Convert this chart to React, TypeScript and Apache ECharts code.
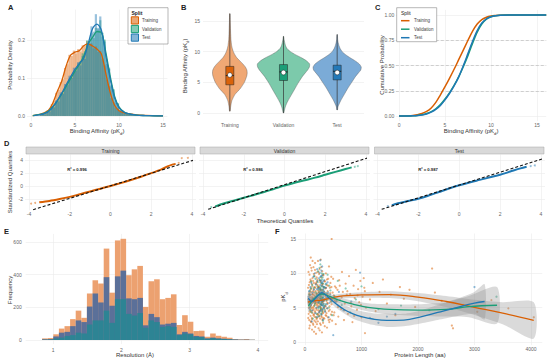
import React, { useEffect, useRef } from 'react';
import * as echarts from 'echarts';

const FONT = '"Liberation Sans", Arial, Helvetica, sans-serif';
const C_TRAIN = '#D95F02';
const C_VAL = '#1B9E77';
const C_TEST = '#1F78B4';
const splits = ['Training', 'Validation', 'Test'];

// ---------- Panel A: affinity histograms + densities ----------
const affinityBinStart = 1.0;
const affinityBinWidth = 0.25;
const histTrain = [0.004,0.008,0.009,0.015,0.017,0.031,0.040,0.061,0.069,0.089,0.097,0.126,0.136,0.161,0.158,0.172,0.165,0.176,0.170,0.186,0.184,0.197,0.186,0.191,0.178,0.183,0.169,0.171,0.151,0.133,0.096,0.078,0.047,0.037,0.022,0.019,0.011,0.011,0.007,0.008,0.004,0.005,0.003,0.004,0.002,0.002,0.001,0.001];
const histVal = [0.003,0.006,0.006,0.012,0.013,0.024,0.025,0.038,0.041,0.056,0.060,0.075,0.081,0.097,0.101,0.116,0.122,0.139,0.145,0.165,0.170,0.199,0.197,0.218,0.205,0.232,0.228,0.252,0.219,0.201,0.148,0.127,0.082,0.071,0.040,0.034,0.017,0.015,0.008,0.008,0.004,0.004,0.002,0.002,0.001,0.001,0.000,0.000];
const histTest = [0.001,0.007,0.004,0.013,0.011,0.026,0.022,0.041,0.038,0.062,0.058,0.084,0.081,0.106,0.100,0.127,0.119,0.142,0.133,0.158,0.150,0.191,0.193,0.236,0.222,0.268,0.232,0.262,0.209,0.196,0.137,0.124,0.078,0.068,0.035,0.032,0.015,0.015,0.006,0.009,0.003,0.005,0.002,0.003,0.001,0.001,0.001,0.000];
const densTrain = [[0.2,0.001],[1,0.004],[1.5,0.008],[2,0.015],[2.5,0.035],[3,0.065],[3.5,0.092],[4,0.132],[4.5,0.160],[5,0.168],[5.5,0.172],[6,0.185],[6.5,0.19],[7,0.184],[7.5,0.176],[8,0.163],[8.5,0.112],[9,0.062],[9.5,0.028],[10,0.014],[10.5,0.009],[11,0.006],[12,0.003],[13,0.0015],[14,0.0008],[15,0.0003]];
const densVal = [[0.2,0.001],[1,0.004],[1.5,0.007],[2,0.013],[2.5,0.025],[3,0.04],[3.5,0.058],[4,0.078],[4.5,0.098],[5,0.118],[5.5,0.136],[6,0.158],[6.5,0.19],[7,0.207],[7.5,0.222],[8,0.22],[8.5,0.168],[9,0.105],[9.5,0.052],[10,0.024],[10.5,0.012],[11,0.006],[12,0.002],[13,0.001],[14,0.0004],[15,0.0002]];
const densTest = [[0.3,0.001],[1,0.003],[1.5,0.006],[2,0.012],[2.5,0.024],[3,0.041],[3.5,0.06],[4,0.082],[4.5,0.103],[5,0.123],[5.5,0.138],[6,0.152],[6.5,0.19],[7,0.23],[7.5,0.242],[8,0.226],[8.5,0.16],[9,0.098],[9.5,0.048],[10,0.022],[10.5,0.011],[11,0.006],[12,0.002],[13,0.001],[14,0.0004],[15,0.0002]];

// ---------- Panel B: violins ----------
const violinTrain = [[0.3,0.003],[1,0.008],[2,0.02],[3,0.05],[4,0.105],[5,0.145],[6,0.168],[6.5,0.173],[7,0.17],[7.5,0.155],[8,0.13],[8.5,0.1],[9,0.07],[9.5,0.05],[10,0.035],[10.5,0.025],[11,0.018],[12,0.011],[13,0.008],[14,0.006],[15,0.004],[16.2,0.002]];
const violinVal = [[0.0,0.003],[0.5,0.01],[1,0.018],[1.5,0.03],[2,0.045],[3,0.08],[4,0.115],[5,0.15],[5.5,0.17],[6,0.19],[6.5,0.215],[7,0.24],[7.5,0.258],[8,0.26],[8.5,0.23],[9,0.18],[9.5,0.12],[10,0.07],[10.5,0.035],[11,0.02],[11.5,0.012],[12,0.006],[12.5,0.002]];
const violinTest = [[0.5,0.003],[1,0.008],[2,0.035],[3,0.07],[4,0.105],[5,0.145],[6,0.185],[6.5,0.21],[7,0.235],[7.5,0.24],[8,0.22],[8.5,0.18],[9,0.13],[9.5,0.085],[10,0.05],[10.5,0.03],[11,0.018],[11.5,0.01],[12,0.005],[12.8,0.002]];
const boxQ1 = [4.6, 5.3, 5.4];
const boxMedian = [6.1, 6.7, 6.8];
const boxQ3 = [7.6, 7.9, 7.8];
const pointMean = [6.2, 6.6, 6.6];
const rangeMin = [0.3, 0.0, 0.5];
const rangeMax = [16.2, 12.5, 12.8];

// ---------- Panel C: CDFs ----------
const cdfTrain = [[0,0],[1,0.003],[1.5,0.006],[2,0.012],[2.5,0.024],[3,0.045],[3.5,0.08],[4,0.135],[4.5,0.21],[5,0.29],[5.5,0.375],[6,0.465],[6.5,0.56],[7,0.655],[7.5,0.75],[8,0.84],[8.5,0.91],[9,0.955],[9.5,0.978],[10,0.99],[10.5,0.995],[11,0.998],[12,0.999],[13,1],[16,1]];
const cdfVal = [[0,0],[1,0.001],[1.5,0.003],[2,0.006],[2.5,0.012],[3,0.024],[3.5,0.043],[4,0.072],[4.5,0.113],[5,0.168],[5.5,0.232],[6,0.305],[6.5,0.39],[7,0.49],[7.5,0.6],[8,0.72],[8.5,0.83],[9,0.91],[9.5,0.958],[10,0.982],[10.5,0.992],[11,0.997],[12,0.999],[16,1]];
const cdfTest = [[0,0],[1,0.001],[1.5,0.002],[2,0.005],[2.5,0.01],[3,0.02],[3.5,0.038],[4,0.065],[4.5,0.105],[5,0.16],[5.5,0.225],[6,0.3],[6.5,0.39],[7,0.5],[7.5,0.62],[8,0.74],[8.5,0.845],[9,0.92],[9.5,0.962],[10,0.983],[10.5,0.993],[11,0.997],[12,1],[16,1]];
const cdfRefLevels = [0.25, 0.5, 0.75];

// ---------- Panel D: QQ ----------
const qqTrain = [[-3.5,-2.55],[-3.0,-2.35],[-2.5,-2.05],[-2.0,-1.7],[-1.5,-1.28],[-1.0,-0.85],[-0.5,-0.42],[0,0],[0.5,0.45],[1.0,0.93],[1.5,1.45],[2.0,2.0],[2.5,2.6],[2.8,3.05],[3.0,3.3],[3.2,3.45]];
const qqTrainTail = [[-3.9,-2.75],[-3.7,-2.65],[3.35,3.6],[3.5,4.35],[3.8,4.4]];
const qqVal = [[-3.4,-3.2],[-3.0,-2.75],[-2.5,-2.3],[-2.0,-1.85],[-1.5,-1.4],[-1.0,-0.95],[-0.5,-0.45],[0,0.05],[0.5,0.5],[1.0,0.9],[1.5,1.3],[2.0,1.75],[2.5,2.2],[3.0,2.65],[3.3,2.9]];
const qqValTail = [[-3.6,-3.3],[3.45,3.0],[3.6,3.1]];
const qqTest = [[-3.3,-3.0],[-3.0,-2.7],[-2.5,-2.35],[-2.0,-2.0],[-1.5,-1.5],[-1.0,-0.95],[-0.5,-0.4],[0,0.1],[0.5,0.55],[1.0,0.95],[1.5,1.35],[2.0,1.75],[2.5,2.25],[3.0,2.75],[3.3,3.0]];
const qqTestTail = [[-3.5,-3.15],[3.5,3.1],[3.7,3.2]];
const qqRefTrain = [[-3.8,-3.7],[4.05,4.0]];
const qqRefVal = [[-3.75,-3.65],[4.05,4.35]];
const qqRefTest = [[-3.8,-3.65],[4.05,4.2]];
const r2Labels = ['R² = 0.996', 'R² = 0.986', 'R² = 0.987'];

// ---------- Panel E: resolution histograms ----------
const resBinStart = 0.84;
const resBinWidth = 0.082;
const resTrain = [10,12,35,70,85,128,180,136,285,366,346,560,290,610,620,397,433,454,203,360,372,250,258,280,92,152,112,55,57,20,40,26,20,14,6,4,6,2];
const resTest = [4,5,22,45,50,85,120,110,205,285,230,385,210,390,425,255,250,258,90,160,140,95,100,105,35,50,40,25,22,10,15,10,8,5,3,2,2,1];
const resVal = [2,3,10,15,25,30,45,40,95,120,120,180,105,250,250,160,150,165,75,120,110,80,85,80,30,40,35,20,18,8,12,8,6,4,2,1,1,1];

// ---------- Panel F: length vs pKd ----------
const scatterTrain = [[60,6.2],[65,4.1],[70,8.3],[72,5.5],[75,3.2],[78,7.1],[80,9.8],[82,5.9],[85,2.4],[88,6.8],[90,11.2],[92,4.7],[95,7.6],[98,3.8],[100,5.2],[102,12.3],[104,8.9],[106,6.1],[108,2.9],[110,4.4],[112,7.8],[115,5.6],[118,10.4],[120,3.5],[122,6.6],[125,1.8],[128,8.1],[130,5.0],[132,9.3],[135,4.2],[138,6.9],[140,2.7],[142,7.4],[145,5.8],[148,3.9],[150,10.9],[152,6.3],[155,4.8],[158,8.6],[160,1.5],[162,5.3],[165,7.2],[168,3.1],[170,9.6],[172,6.0],[175,4.5],[178,11.5],[180,2.2],[182,7.9],[185,5.7],[188,3.6],[190,8.4],[192,6.4],[195,1.2],[198,4.9],[200,10.1],[202,7.0],[205,3.3],[208,5.4],[210,8.8],[212,2.6],[215,6.7],[218,4.0],[220,9.1],[222,5.1],[225,7.5],[228,3.0],[230,11.8],[232,6.2],[235,4.6],[238,8.0],[240,2.0],[242,5.9],[245,7.3],[248,3.7],[250,9.9],[252,6.5],[255,4.3],[258,10.6],[260,1.7],[262,5.5],[265,7.7],[268,3.4],[270,8.7],[272,6.8],[275,4.7],[278,12.0],[280,2.5],[282,5.0],[285,7.6],[288,3.8],[290,9.4],[292,6.1],[295,4.1],[298,8.2],[300,1.4],[302,5.8],[305,10.3],[308,3.2],[310,7.0],[312,6.3],[315,4.4],[318,8.5],[320,2.8],[322,5.6],[325,9.7],[328,3.5],[330,7.1],[335,6.0],[340,4.9],[345,8.9],[350,2.3],[355,5.3],[360,7.8],[365,3.9],[370,10.0],[375,6.4],[380,4.2],[385,8.3],[390,2.1],[395,5.7],[400,7.4],[405,3.6],[410,9.2],[415,6.6],[420,4.5],[425,11.0],[430,2.9],[435,5.2],[440,7.9],[445,3.3],[450,8.6],[455,6.2],[460,4.0],[465,9.5],[470,5.5],[472,15.0],[480,3.1],[490,7.2],[510,6.8],[520,4.3],[530,8.1],[545,2.6],[560,5.9],[575,7.6],[590,3.7],[605,9.0],[620,6.1],[640,4.8],[655,10.2],[670,7.3],[690,3.2],[705,5.6],[720,8.5],[740,6.9],[760,4.1],[780,9.6],[800,7.0],[820,5.2],[840,2.9],[860,8.2],[880,6.4],[900,10.5],[920,4.7],[940,7.7],[960,5.8],[980,8.9],[1000,3.6],[1020,6.6],[1040,9.3],[1060,7.4],[1062,1.3],[1080,5.0],[1150,6.2],[1200,8.6],[1250,4.5],[1320,7.3],[1380,9.1],[1450,5.6],[1520,6.9],[1600,3.9],[1680,8.0],[1750,6.3],[1850,7.6],[1950,5.1],[2250,10.7],[2300,7.2],[2420,6.0],[2600,2.4],[2620,2.0],[2800,5.4],[3050,4.4],[3300,6.1],[3600,4.9],[4050,3.6],
  [55,7.9],[58,3.5],[62,10.2],[68,5.0],[74,6.9],[77,2.0],[83,8.7],[87,4.4],[91,6.5],[96,9.1],[99,5.3],[103,3.0],[107,7.3],[111,10.8],[114,4.9],[117,6.2],[121,8.4],[124,3.3],[127,5.9],[131,7.0],[134,11.8],[137,4.6],[141,6.4],[144,8.9],[147,2.5],[151,5.1],[154,7.7],[157,9.9],[161,4.0],[164,6.8],[167,3.7],[171,8.0],[174,5.5],[177,10.5],[181,6.6],[184,4.3],[187,7.4],[191,2.9],[194,5.8],[197,8.6],[201,6.1],[204,4.7],[207,9.4],[211,7.1],[214,3.5],[217,5.6],[221,8.3],[224,6.4],[227,4.1],[231,7.9],[234,10.2],[237,5.3],[241,6.9],[244,3.9],[247,8.1],[251,5.7],[254,7.2],[257,4.5],[261,9.0],[264,6.3],[267,2.7],[271,5.1],[274,7.5],[277,8.9],[281,4.8],[284,6.6],[287,10.9],[291,5.4],[294,7.0],[297,3.6],[301,6.5],[304,8.4],[307,4.6],[311,5.9],[314,7.6],[317,9.8],[321,4.2],[324,6.0],[327,8.0],[332,5.0],[338,7.3],[343,3.4],[348,6.2],[353,8.8],[358,4.5],[363,6.7],[368,5.2],[373,7.9],[378,3.8],[383,6.0],[388,9.1],[393,4.9],[398,7.0],[403,5.6],[408,8.2],[418,3.2],[428,6.5],[438,4.7],[448,7.1],[458,5.9],[468,8.0],[478,4.4],[488,6.3],[498,9.2],[508,3.9],[525,6.0],[550,7.9],[585,5.1],[615,8.2],[650,6.5],[700,4.6],[750,7.4],[810,5.7],[870,3.8],[930,6.8],[990,5.4],[1050,7.9]];
const scatterVal = [[70,5.8],[85,7.4],[95,4.6],[110,8.8],[125,6.0],[140,3.4],[155,7.9],[170,5.3],[185,9.2],[200,6.6],[210,4.1],[220,8.1],[230,10.3],[240,5.7],[248,7.2],[255,3.8],[262,9.0],[268,6.3],[272,11.3],[276,4.9],[280,7.7],[284,5.5],[288,8.6],[292,6.9],[296,10.0],[300,4.4],[304,7.3],[308,5.9],[312,9.4],[316,6.5],[320,3.1],[326,8.0],[332,5.2],[340,7.0],[350,4.7],[365,8.4],[380,6.1],[400,9.8],[420,5.0],[450,7.5],[480,3.9],[520,6.7],[580,8.9],[650,5.4],[720,7.8],[800,4.3],[900,6.2],[1000,8.1],[1300,4.8],[1700,5.3],[2200,4.6],[3390,6.6],
  [75,6.9],[90,5.1],[105,7.8],[118,4.3],[130,8.3],[145,6.2],[160,9.6],[175,5.6],[190,7.2],[202,3.6],[215,6.9],[226,8.7],[236,4.9],[244,7.6],[252,6.0],[258,10.8],[265,5.2],[270,7.9],[275,9.5],[279,6.4],[283,4.1],[287,7.0],[291,8.1],[295,5.7],[299,9.1],[303,6.3],[307,4.8],[311,7.5],[315,8.5],[319,5.4],[323,6.8],[329,9.9],[336,6.1],[345,7.9],[360,5.5],[375,7.1],[395,6.4],[430,8.2],[470,5.9],[560,6.1]];
const scatterTest = [[65,6.6],[80,4.9],[95,8.0],[110,5.4],[120,3.0],[135,7.2],[150,9.5],[165,5.9],[180,4.2],[195,8.4],[205,6.4],[215,10.6],[225,3.7],[235,7.8],[243,5.1],[250,9.3],[258,6.8],[264,4.5],[270,11.9],[274,7.5],[278,5.6],[282,8.9],[286,6.2],[290,10.4],[294,4.0],[298,7.1],[302,9.7],[306,5.3],[310,8.2],[314,6.0],[318,3.3],[324,7.7],[330,5.0],[338,9.0],[345,6.3],[355,4.4],[370,7.9],[385,5.5],[400,8.7],[420,3.6],[445,6.9],[500,1.0],[540,5.8],[600,7.3],[680,4.6],[820,5.9],[975,10.1],[1150,3.5],[1300,2.8],[1450,3.7],[1600,4.1],[3000,8.0],
  [72,7.4],[88,5.6],[102,6.9],[115,8.6],[128,4.6],[142,6.3],[158,7.6],[172,10.0],[188,6.1],[200,5.0],[210,7.7],[220,8.9],[230,5.8],[240,6.6],[247,4.3],[254,7.9],[261,10.1],[267,5.9],[272,8.3],[276,6.7],[280,4.6],[284,9.6],[288,7.2],[292,5.4],[296,8.6],[300,6.0],[304,11.0],[308,7.0],[312,4.7],[316,8.8],[321,6.5],[327,5.6],[334,7.4],[342,8.0],[350,5.2],[362,6.9],[378,8.5],[392,4.9],[410,7.2],[435,5.7]];
const loessTrain = [[50,5.8],[150,6.0],[300,6.1],[600,6.65],[1000,6.85],[1500,6.9],[2000,6.55],[2500,5.9],[3000,5.05],[3500,4.2],[4050,3.15]];
const loessVal = [[60,5.2],[150,6.2],[300,7.0],[450,6.6],[600,6.1],[850,5.5],[1150,5.0],[1500,4.75],[2000,4.65],[2500,4.75],[2900,5.15],[3400,5.35]];
const loessTest = [[60,6.4],[120,5.9],[200,6.5],[300,7.2],[400,6.6],[560,5.5],[700,4.7],[850,4.1],[1000,3.7],[1200,3.35],[1450,3.15],[1750,3.2],[2050,3.65],[2350,4.3],[2650,4.95],[3000,5.65],[3180,5.9]];
const bandTrain = [[50,5.3,6.7],[150,5.6,6.4],[300,5.8,6.4],[600,6.3,7.0],[1000,6.45,7.25],[1500,6.4,7.4],[2000,5.95,7.15],[2500,5.1,6.7],[3000,3.95,6.15],[3500,2.6,5.8],[4050,0.5,5.8]];
const bandVal = [[60,4.3,6.1],[150,5.7,6.7],[300,6.6,7.4],[600,5.7,6.5],[850,5.0,6.0],[1150,4.4,5.6],[1500,4.0,5.5],[2000,3.8,5.5],[2500,3.7,5.8],[2900,3.6,6.7],[3400,2.7,8.0]];
const bandTest = [[60,5.4,7.4],[200,5.9,7.1],[300,6.8,7.6],[560,4.9,6.1],[850,3.4,4.8],[1200,2.5,4.2],[1450,2.2,4.1],[1750,2.3,4.1],[2050,2.7,4.6],[2350,3.2,5.4],[2650,3.7,6.2],[3000,4.1,7.3],[3180,3.3,8.4]];

// ticks
const ticksAffinity = [0, 5, 10, 15];
const ticksDensity = [0, 0.1, 0.2];
const ticksViolinY = [0, 5, 10, 15];
const ticksCdf = [0, 0.25, 0.5, 0.75, 1];
const ticksQQx = [-4, -2, 0, 2, 4];
const ticksQQy = [-2, 0, 2, 4];
const ticksRes = [1, 2, 3, 4];
const ticksFreq = [0, 200, 400, 600];
const ticksLen = [0, 1000, 2000, 3000, 4000];
const ticksPk = [0, 5, 10, 15];

const GRID_COLOR = '#EBEBEB';
const LABEL_COLOR = '#666666';
const TITLE_COLOR = '#333333';

function valAxis(gi: number, min: number, max: number, ticks: number[], opts: any = {}) {
  return {
    type: 'value', gridIndex: gi, min, max,
    axisLine: { show: false },
    axisTick: { show: false, customValues: ticks },
    axisLabel: {
      show: opts.hideLabel ? false : true,
      customValues: ticks, fontSize: 5, color: LABEL_COLOR, fontFamily: FONT, fontWeight: 'normal',
      margin: opts.margin ?? 2,
      formatter: opts.formatter ?? ((v: number) => String(v)),
    },
    splitLine: { show: true, lineStyle: { color: GRID_COLOR, width: 0.6 } },
  };
}

function histSeries(name: string, gi: number, start: number, width: number, vals: number[], color: string) {
  return {
    type: 'custom', name, xAxisIndex: gi, yAxisIndex: gi, coordinateSystem: 'cartesian2d', silent: true,
    data: vals.map((v, i) => [start + i * width, start + (i + 1) * width, v]),
    encode: { x: [0, 1], y: 2 },
    renderItem: (params: any, api: any) => {
      const p0 = api.coord([api.value(0), api.value(2)]);
      const p1 = api.coord([api.value(1), 0]);
      return { type: 'rect', shape: { x: p0[0], y: p0[1], width: p1[0] - p0[0], height: p1[1] - p0[1] }, style: { fill: color } };
    },
  };
}

function lineSeries(name: string, gi: number, data: number[][], color: string, width: number, extra: any = {}) {
  return {
    type: 'line', name, xAxisIndex: gi, yAxisIndex: gi, data, symbol: 'none', silent: true,
    lineStyle: { color, width, ...(extra.lineStyle || {}) },
    smooth: extra.smooth ?? false, z: extra.z ?? 3,
    ...(extra.markLine ? { markLine: extra.markLine } : {}),
  };
}

function bandSeries(gi: number, band: number[][]) {
  return {
    type: 'custom', xAxisIndex: gi, yAxisIndex: gi, coordinateSystem: 'cartesian2d', silent: true, z: 2,
    data: [[band[0][0], band[0][1]]],
    encode: { x: 0, y: 1 },
    renderItem: (params: any, api: any) => {
      const upper = band.map((b) => api.coord([b[0], b[2]]));
      const lower = band.slice().reverse().map((b) => api.coord([b[0], b[1]]));
      return { type: 'polygon', shape: { points: upper.concat(lower), smooth: 0.25 }, style: { fill: 'rgba(140,140,140,0.32)' } };
    },
  };
}

const violinProfiles = [violinTrain, violinVal, violinTest];
const violinFill = ['#F0A874', '#7CCAAB', '#7BABD7'];
const boxFill = ['#D9620A', '#1B9E77', '#2479B8'];

function buildOption(): any {
  const grids = [
    { left: 27, top: 9.6, width: 140.4, height: 111.3 },
    { left: 203, top: 10, width: 161, height: 107.9 },
    { left: 395.8, top: 9.95, width: 150.4, height: 111.1 },
    { left: 25, top: 154.6, width: 171, height: 55.7 },
    { left: 199, top: 154.6, width: 171, height: 55.7 },
    { left: 373.5, top: 154.6, width: 171.5, height: 55.7 },
    { left: 25.7, top: 233.9, width: 242.5, height: 110.2 },
    { left: 297.65, top: 233.5, width: 244.6, height: 111.6 },
  ];

  const xAxis: any[] = [
    valAxis(0, -0.45, 15.5, ticksAffinity, { margin: 1.5 }),
    {
      type: 'category', gridIndex: 1, data: splits,
      axisLine: { show: false }, axisTick: { show: false },
      axisLabel: { fontSize: 5, color: LABEL_COLOR, margin: 4.5, fontFamily: FONT, fontWeight: 'normal' },
      splitLine: { show: false },
    },
    valAxis(2, -0.35, 16, ticksAffinity, { margin: 1.5 }),
    valAxis(3, -4.2, 4.2, ticksQQx, { margin: 1.5 }),
    valAxis(4, -4.2, 4.2, ticksQQx, { margin: 1.5 }),
    valAxis(5, -4.2, 4.2, ticksQQx, { margin: 1.5 }),
    valAxis(6, 0.6, 4.15, ticksRes, { margin: 3.5 }),
    valAxis(7, -130, 4200, ticksLen, { margin: 1 }),
  ];
  const yAxis: any[] = [
    valAxis(0, -0.013, 0.28, ticksDensity, { margin: 2, formatter: (v: number) => v.toFixed(1) }),
    valAxis(1, -0.8, 16.8, ticksViolinY, { margin: 3 }),
    valAxis(2, -0.05, 1.05, ticksCdf, { margin: 1.5, formatter: (v: number) => v.toFixed(2) }),
    valAxis(3, -3.8, 4.9, ticksQQy, { margin: 2 }),
    valAxis(4, -3.8, 4.9, ticksQQy, { hideLabel: true }),
    valAxis(5, -3.8, 4.9, ticksQQy, { hideLabel: true }),
    valAxis(6, -25, 650, ticksFreq, { margin: 4 }),
    valAxis(7, -0.45, 15.8, ticksPk, { margin: 1.5 }),
  ];

  const series: any[] = [];
  // A
  series.push(histSeries('Training', 0, affinityBinStart, affinityBinWidth, histTrain, 'rgba(217,95,2,0.45)'));
  series.push(histSeries('Validation', 0, affinityBinStart, affinityBinWidth, histVal, 'rgba(27,158,119,0.45)'));
  series.push(histSeries('Test', 0, affinityBinStart, affinityBinWidth, histTest, 'rgba(31,120,180,0.45)'));
  series.push(lineSeries('Training', 0, densTrain, C_TRAIN, 1.3, { smooth: 0.3, z: 4 }));
  series.push(lineSeries('Validation', 0, densVal, C_VAL, 1.3, { smooth: 0.3, z: 4 }));
  series.push(lineSeries('Test', 0, densTest, C_TEST, 1.3, { smooth: 0.3, z: 4 }));

  // B violins
  series.push({
    type: 'custom', xAxisIndex: 1, yAxisIndex: 1, coordinateSystem: 'cartesian2d', silent: true,
    data: splits.map((s, i) => [i, boxMedian[i]]),
    encode: { x: 0, y: 1 },
    renderItem: (params: any, api: any) => {
      const i = params.dataIndex;
      const prof = violinProfiles[i];
      const band = api.size([1, 0])[0];
      const scale = band * 1.87;
      const right: number[][] = [];
      const left: number[][] = [];
      prof.forEach(([y, d]) => {
        const p = api.coord([i, y]);
        right.push([p[0] + d * scale, p[1]]);
        left.unshift([p[0] - d * scale, p[1]]);
      });
      const c = api.coord([i, boxMedian[i]]);
      const q1 = api.coord([i, boxQ1[i]]);
      const q3 = api.coord([i, boxQ3[i]]);
      const lo = api.coord([i, rangeMin[i]]);
      const hi = api.coord([i, rangeMax[i]]);
      const mean = api.coord([i, pointMean[i]]);
      const bw = band * 0.15;
      return {
        type: 'group',
        children: [
          { type: 'polygon', shape: { points: right.concat(left), smooth: 0.2 }, style: { fill: violinFill[i], stroke: '#555', lineWidth: 0.4 } },
          { type: 'line', shape: { x1: c[0], y1: lo[1], x2: c[0], y2: hi[1] }, style: { stroke: '#333', lineWidth: 0.7 } },
          { type: 'rect', shape: { x: c[0] - bw / 2, y: q3[1], width: bw, height: q1[1] - q3[1] }, style: { fill: boxFill[i], stroke: '#222', lineWidth: 0.5 } },
          { type: 'line', shape: { x1: c[0] - bw / 2, y1: c[1], x2: c[0] + bw / 2, y2: c[1] }, style: { stroke: '#111', lineWidth: 0.8 } },
          { type: 'circle', shape: { cx: mean[0], cy: mean[1], r: 2.4 }, style: { fill: '#fff', stroke: '#333', lineWidth: 0.6 } },
        ],
      };
    },
  });

  // C
  series.push(lineSeries('Training', 2, cdfTrain, C_TRAIN, 1.5, {
    smooth: 0.3, z: 4,
    markLine: {
      silent: true, symbol: 'none', label: { show: false },
      lineStyle: { type: [3, 2], color: '#BDBDBD', width: 0.7 },
      data: cdfRefLevels.map((v) => ({ yAxis: v })),
      z: 1,
    },
  }));
  series.push(lineSeries('Validation', 2, cdfVal, C_VAL, 1.5, { smooth: 0.3, z: 4 }));
  series.push(lineSeries('Test', 2, cdfTest, C_TEST, 1.5, { smooth: 0.3, z: 4 }));

  // D
  const qqSets = [
    [qqTrain, qqTrainTail, qqRefTrain, C_TRAIN],
    [qqVal, qqValTail, qqRefVal, C_VAL],
    [qqTest, qqTestTail, qqRefTest, C_TEST],
  ] as any[];
  qqSets.forEach(([main, tail, ref, color], k) => {
    const gi = 3 + k;
    series.push(lineSeries(splits[k], gi, main, color, 2, { smooth: 0.3, z: 3 }));
    series.push({
      type: 'scatter', xAxisIndex: gi, yAxisIndex: gi, data: tail, symbolSize: 2, silent: true,
      itemStyle: { color, opacity: 0.5 }, z: 3,
    });
    series.push(lineSeries('ref', gi, ref, '#111', 1.1, { z: 5, lineStyle: { type: [3, 2] } }));
  });

  // E
  series.push(histSeries('Training', 6, resBinStart, resBinWidth, resTrain, '#ECA170'));
  series.push(histSeries('Test', 6, resBinStart, resBinWidth, resTest, '#5B7099'));
  series.push(histSeries('Validation', 6, resBinStart, resBinWidth, resVal, '#2D8494'));

  // F
  series.push({ type: 'scatter', xAxisIndex: 7, yAxisIndex: 7, data: scatterTrain, symbolSize: 2.2, silent: true, itemStyle: { color: C_TRAIN, opacity: 0.5 }, z: 1 });
  series.push({ type: 'scatter', xAxisIndex: 7, yAxisIndex: 7, data: scatterVal, symbolSize: 2.2, silent: true, itemStyle: { color: C_VAL, opacity: 0.5 }, z: 1 });
  series.push({ type: 'scatter', xAxisIndex: 7, yAxisIndex: 7, data: scatterTest, symbolSize: 2.2, silent: true, itemStyle: { color: C_TEST, opacity: 0.5 }, z: 1 });
  series.push(bandSeries(7, bandTrain));
  series.push(bandSeries(7, bandVal));
  series.push(bandSeries(7, bandTest));
  series.push(lineSeries('Training', 7, loessTrain, C_TRAIN, 1.3, { smooth: 0.4, z: 4 }));
  series.push(lineSeries('Validation', 7, loessVal, C_VAL, 1.3, { smooth: 0.4, z: 4 }));
  series.push(lineSeries('Test', 7, loessTest, C_TEST, 1.3, { smooth: 0.4, z: 4 }));

  const pkRich = {
    sub: { fontSize: 4.2, lineHeight: 10, verticalAlign: 'bottom', fontFamily: FONT, fontWeight: 'normal', fill: TITLE_COLOR },
  };
  const title = (text: string, x: number, y: number, rotate = false, rich = false) => ({
    type: 'text', x, y, rotation: rotate ? Math.PI / 2 : 0, silent: true, z: 10,
    style: {
      text, fontSize: 6, lineHeight: 10, fontFamily: FONT, fontWeight: 'normal', fill: TITLE_COLOR, align: 'center', verticalAlign: 'middle',
      ...(rich ? { rich: pkRich } : {}),
    },
  });
  const letter = (t: string, x: number, y: number) => ({
    type: 'text', x, y, silent: true, z: 10,
    style: { text: t, fontSize: 7.5, fontWeight: 'bold', fontFamily: FONT, fill: '#222', align: 'left', verticalAlign: 'middle' },
  });
  const legendColors = [C_TRAIN, C_VAL, C_TEST];
  const legendFill = ['rgba(217,95,2,0.55)', 'rgba(27,158,119,0.55)', 'rgba(31,120,180,0.55)'];

  const graphic: any[] = [
    letter('A', 8, 7), letter('B', 181, 7), letter('C', 375, 7), letter('D', 4, 143), letter('E', 4, 231), letter('F', 275, 231),
    title('Binding Affinity (pK{sub|d})', 97, 130.5, false, true),
    title('Probability Density', 9.5, 65, true),
    title('Binding Affinity (pK{sub|d})', 184.5, 66, true, true),
    title('Binding Affinity (pK{sub|d})', 471, 130.5, false, true),
    title('Cumulative Probability', 382, 65, true),
    title('Standardized Quantiles', 10, 182, true),
    title('Theoretical Quantiles', 285, 221),
    title('Frequency', 9.5, 290, true),
    title('Resolution (Å)', 135, 355),
    title('pK{sub|d}', 283, 297, true, true),
    title('Protein Length (aa)', 420, 355),
    // Legend A
    { type: 'rect', z: 10, silent: true, shape: { x: 128, y: 7.7, width: 40, height: 36.3 }, style: { fill: '#fff', stroke: '#888', lineWidth: 0.6 } },
    { type: 'text', z: 11, silent: true, x: 131.5, y: 12.5, style: { text: 'Split', fontSize: 5, fontWeight: 'bold', fontFamily: FONT, fill: '#222', verticalAlign: 'middle' } },
    ...splits.flatMap((s, i) => [
      { type: 'rect', z: 11, silent: true, shape: { x: 131.3, y: 16.8 + i * 8.6, width: 7.2, height: 7.2 }, style: { fill: legendFill[i], stroke: legendColors[i], lineWidth: 1 } },
      { type: 'text', z: 11, silent: true, x: 142, y: 20.4 + i * 8.6, style: { text: s, fontSize: 4.5, fontWeight: 'normal', fontFamily: FONT, fill: '#444', verticalAlign: 'middle' } },
    ]),
    // Legend C
    { type: 'rect', z: 10, silent: true, shape: { x: 396.7, y: 7.7, width: 40, height: 34 }, style: { fill: '#fff', stroke: '#888', lineWidth: 0.6 } },
    { type: 'text', z: 11, silent: true, x: 401, y: 12.5, style: { text: 'Split', fontSize: 5, fontWeight: 'normal', fontFamily: FONT, fill: '#222', verticalAlign: 'middle' } },
    ...splits.flatMap((s, i) => [
      { type: 'line', z: 11, silent: true, shape: { x1: 401, y1: 20.7 + i * 8.5, x2: 409.5, y2: 20.7 + i * 8.5 }, style: { stroke: legendColors[i], lineWidth: 1.5 } },
      { type: 'text', z: 11, silent: true, x: 414, y: 20.7 + i * 8.5, style: { text: s, fontSize: 4.5, fontWeight: 'normal', fontFamily: FONT, fill: '#444', verticalAlign: 'middle' } },
    ]),
  ];
  // D strips and R2 labels
  [3, 4, 5].forEach((gi, k) => {
    const g = grids[gi];
    graphic.push({ type: 'rect', z: 10, silent: true, shape: { x: g.left + 1, y: 147, width: g.width - 2, height: 7 }, style: { fill: '#D9D9D9', stroke: '#A6A6A6', lineWidth: 0.5 } });
    graphic.push({ type: 'text', z: 11, silent: true, x: g.left + g.width / 2, y: 150.6, style: { text: splits[k], fontSize: 5, fontWeight: 'normal', fontFamily: FONT, fill: '#333', align: 'center', verticalAlign: 'middle' } });
  });
  const r2x = [77, 253, 428];
  r2Labels.forEach((t, k) => {
    graphic.push({ type: 'text', z: 11, silent: true, x: r2x[k], y: 169, style: { text: t, fontSize: 4.2, fontWeight: 'bold', fontFamily: FONT, fill: '#222', align: 'center', verticalAlign: 'middle' } });
  });

  return {
    animation: false,
    backgroundColor: '#fff',
    textStyle: { fontFamily: FONT, fontWeight: 'normal' },
    grid: grids,
    xAxis, yAxis, series, graphic,
  };
}

export default function App() {
  const ref = useRef<HTMLDivElement>(null);
  useEffect(() => {
    const chart = echarts.init(ref.current as HTMLDivElement, null, { renderer: 'svg' });
    chart.setOption(buildOption());
    return () => chart.dispose();
  }, []);
  return <div ref={ref} style={{ position: 'fixed', left: 0, top: 0, width: 550, height: 362, background: '#fff' }} />;
}
